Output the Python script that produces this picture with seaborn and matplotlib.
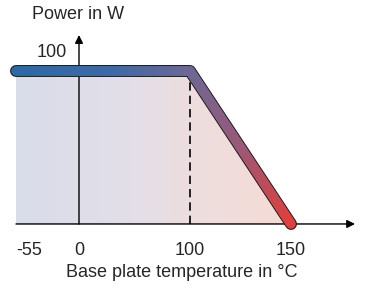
import numpy as np
import matplotlib
matplotlib.use("Agg")
import matplotlib.pyplot as plt
import seaborn as sns
from matplotlib.collections import LineCollection
from matplotlib.colors import LinearSegmentedColormap

# derating curve: power vs base plate temperature
temp = [-55, 100, 150]
power = [100, 100, 0]
tick_values = [-55, 0, 100, 150]
tick_labels = ["-55", "0", "100", "150"]

# schematic (not to scale) x axis: piecewise linear
scale_knots = [-69, -55, 0, 100, 150, 187]
scale_pos = [0, 16, 79, 190, 291, 366]


def forward(x):
    return np.interp(x, scale_knots, scale_pos)


def inverse(p):
    return np.interp(p, scale_pos, scale_knots)


line_cmap = LinearSegmentedColormap.from_list(
    "line", [(0.0, "#2d68a6"), (0.35, "#3e69a6"), (0.63, "#6b6896"),
             (0.82, "#9b5878"), (1.0, "#e0403c")])
fill_cmap = LinearSegmentedColormap.from_list(
    "fill", [(0.0, "#d9dcea"), (0.5, "#e3dfe8"), (1.0, "#f6dcd5")])

sns.set_style("white")
plt.rcParams["font.family"] = ["Liberation Sans", "DejaVu Sans"]

fig = plt.figure(figsize=(3.66, 2.87), dpi=100)
ax = fig.add_axes([0, 0, 1, 1])
ax.set_xscale("function", functions=(forward, inverse))
ax.set_xlim(-69, 187)
ax.set_ylim(-41.2, 146.4)
ax.axis("off")

# gradient fill under the curve
poly = ax.fill_between(temp, power, 0, color="none", lw=0)
grad = np.linspace(0, 1, 256).reshape(1, -1)
img = ax.imshow(grad, cmap=fill_cmap, aspect="auto",
                extent=[temp[0], temp[-1], 0, max(power)], zorder=1)
img.set_clip_path(poly.get_paths()[0], transform=ax.transData)

# dashed line at the knee
ax.plot([temp[1], temp[1]], [0, power[1]], color="black", lw=1.2,
        ls=(0, (5, 3)), zorder=2)

# axes with arrows
ax.annotate("", xy=(181.6, 0), xytext=(temp[0], 0),
            arrowprops=dict(arrowstyle="-|>", color="black", lw=1.0,
                            mutation_scale=12, shrinkA=0, shrinkB=0), zorder=3)
ax.annotate("", xy=(0, 123.5), xytext=(0, 0),
            arrowprops=dict(arrowstyle="-|>", color="black", lw=1.0,
                            mutation_scale=12, shrinkA=0, shrinkB=0), zorder=3)

# curve: dark outline then gradient stroke
ax.plot(temp, power, color="#1e1e1e", lw=8.6, solid_capstyle="round",
        solid_joinstyle="round", zorder=4)
xs, ys = [], []
for i in range(len(temp) - 1):
    t = np.linspace(0, 1, 80, endpoint=(i == len(temp) - 2))
    xs.extend(temp[i] + (temp[i + 1] - temp[i]) * t)
    ys.extend(power[i] + (power[i + 1] - power[i]) * t)
xs, ys = np.array(xs), np.array(ys)
pts = np.column_stack([xs, ys]).reshape(-1, 1, 2)
segs = np.concatenate([pts[:-1], pts[1:]], axis=1)
px = forward(xs)
frac = (px - px.min()) / (px.max() - px.min())
lc = LineCollection(segs, colors=line_cmap(frac[:-1]), linewidths=7.0,
                    capstyle="round", joinstyle="round", zorder=5)
ax.add_collection(lc)

# labels
for v, lab in zip(tick_values, tick_labels):
    ax.text(v, -17.6, lab, ha="left" if v == tick_values[0] else "center",
            va="center", fontsize=13)
ax.text(inverse(182), -32, "Base plate temperature in \u00b0C",
        ha="center", va="center", fontsize=13)
ax.text(-23.5, 112.4, "100", ha="center", va="center", fontsize=13)
ax.text(-0.9, 137.0, "Power in W", ha="center", va="center", fontsize=13)

fig.savefig("out.png", dpi=100)
